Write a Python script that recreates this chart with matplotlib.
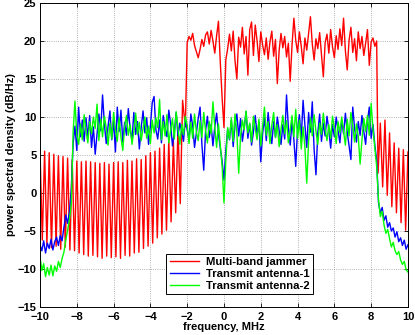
import matplotlib
matplotlib.use('Agg')
import matplotlib.pyplot as plt
import numpy as np

# red: multi-band jammer (left comb, main band, right comb)
red_left = [5.8, -6.2, 5.5, -6.8, 5.3, -7.2, 5.1, -7.0, 4.9, -7.4, 4.8, -7.1, 4.6, -7.5,
            4.4, -7.6, 4.2, -7.9, 4.1, -8.1, 4.2, -8.3, 4.1, -8.2, 4.0, -8.4, 3.9, -8.6,
            4.0, -8.3, 3.8, -8.5, 4.0, -8.4, 4.1, -8.6, 4.0, -8.2, 4.3, -8.3, 4.2, -7.9,
            4.5, -7.8, 4.4, -7.3, 4.9, -7.0, 5.3, -6.6, 5.5, -5.9, 5.9, -5.4, 6.4, -4.9,
            7.0, -3.8, 6.8, -2.6, 8.6, -1.4, 12.2]
red_band = [8.7, 19.8, 20.6, 20.1, 21.0, 19.4, 18.6, 17.8, 18.9, 20.2,
            19.3, 20.8, 21.2, 19.6, 21.4, 20.0, 18.4, 20.7, 22.6, 17.2,
            12.5, 8.6, 17.5, 19.0, 20.9, 18.7, 21.3, 17.4, 15.0, 20.5,
            19.2, 21.8, 18.3, 20.6, 15.5, 21.5, 22.5, 18.1, 22.1, 20.0,
            17.3, 21.2, 19.5, 18.2, 20.4, 17.6, 19.9, 21.3, 18.0, 20.2,
            14.4, 18.8, 21.0, 19.1, 20.6, 17.9, 19.7, 14.7, 19.5, 23.0,
            20.1, 18.5, 21.2, 19.3, 17.0, 20.4, 18.8, 21.0, 23.2, 19.6,
            17.5, 20.3, 19.0, 21.1, 18.2, 15.3, 19.8, 20.9, 18.4, 21.5,
            19.2, 17.8, 20.7, 18.9, 21.6, 19.4, 23.0, 18.7, 16.2, 20.1,
            21.8, 18.5, 20.3, 17.4, 21.2, 19.0, 20.6, 18.1, 19.7, 21.5,
            16.8, 19.9, 20.4, 19.3, 20.0]
red_right = [2.6, 9.2, 0.8, 9.6, -0.3, 7.9, -1.8, 6.6, -2.6, 5.9, -3.9, 5.7, -4.9, 5.4]

red_freq = np.concatenate([np.linspace(-10, -2.25, len(red_left)),
                           np.linspace(-2.1, 8.3, len(red_band)),
                           np.linspace(8.375, 10, len(red_right))])
red_psd = np.array(red_left + red_band + red_right)

# transmit antennas, sampled every 0.1 MHz from -10 to 10
blue_psd = [-6.8, -7.6, -6.3, -7.9, -6.6, -7.3, -6.1, -7.5, -6.4, -5.8,
            -6.9, -5.6, -6.3, -4.5, -2.9, -4.0, -2.5, 0.5,
            6.5, 8.8, 5.6, 11.3, 7.4, 9.6, 6.8, 9.9, 7.3, 10.2,
            6.0, 8.7, 5.1, 7.8, 10.4, 8.2, 12.9, 9.1, 6.5, 8.8,
            10.8, 7.0, 9.5, 5.4, 11.3, 8.1, 10.9, 6.7, 9.3, 7.6,
            11.1, 8.4, 6.9, 10.6, 7.7, 9.4, 5.8, 8.6, 10.8, 7.9,
            9.9, 6.4, 8.8, 11.9, 12.7, 8.3, 7.1, 9.6, 6.6, 10.2,
            8.5, 7.4, 10.9, 9.1, 6.2, 8.0, 10.6, 7.5, 9.2, 8.1,
            6.8, 9.7, 8.3, 7.0, 10.4, 8.8, 6.0, 7.9, 9.8, 11.3, 6.4, 3.0,
            8.2, 10.1, 7.3, 9.0, 6.2, 8.7, 10.5, 7.8, 5.9, 4.2,
            1.7,
            5.6, 8.4, 7.0, 9.6, 6.1, 8.9, 10.4, 7.5, 9.8, 6.8,
            8.6, 10.7, 7.2, 9.1, 6.3, 8.0, 10.2, 7.6, 9.3, 4.1,
            7.8, 9.9, 6.9, 10.6, 8.1, 6.5, 9.4, 7.3, 10.0, 8.2,
            6.4, 9.0, 7.1, 12.9, 8.6, 6.3, 9.5, 7.0, 3.5, 8.4,
            10.3, 7.2, 12.2, 8.9, 6.0, 10.6, 8.0, 12.0, 5.7, 2.4,
            7.9, 10.4, 6.8, 9.2, 7.5, 10.1, 8.3, 5.9, 9.0, 7.4,
            10.0, 8.2, 6.6, 9.6, 7.8, 10.5, 8.0, 6.2, 4.4, 11.3,
            8.5, 6.7, 9.4, 7.6, 10.2, 8.1, 6.4, 9.5, 11.3, 7.2,
            9.0, 6.3, 4.3,
            -1.3, -2.6, -1.9, -3.6, -3.0, -4.5, -3.9, -5.0, -4.6, -5.8,
            -5.1, -6.4, -5.9, -6.9, -6.2, -7.4, -6.8]
green_psd = [-8.4, -10.2, -9.3, -11.0, -9.8, -10.8, -9.5, -10.9, -9.6, -10.3,
             -9.0, -9.8, -8.6, -7.8, -6.2, -4.9, -3.5, -1.5,
             8.0, 12.1, 7.6, 6.4, 9.1, 7.0, 10.3, 8.2, 6.6, 9.4,
             7.8, 10.0, 8.5, 11.7, 6.9, 9.7, 7.4, 10.1, 8.6, 6.3,
             9.2, 7.1, 10.6, 8.4, 6.8, 9.9, 7.3, 5.6, 8.7, 10.2,
             7.6, 9.0, 6.4, 8.1, 10.5, 7.7, 9.3, 6.9, 8.5, 10.0,
             7.2, 8.8, 6.5, 9.6, 7.9, 9.9, 8.6, 12.3, 7.0, 9.4,
             7.5, 10.3, 6.6, 8.2, 9.8, 7.1, 10.7, 8.5, 6.4, 9.0,
             7.7, 10.1, 8.9, 6.5, 9.3, 7.2, 10.4, 8.0, 6.9, 9.5,
             7.3, 10.6, 8.2, 6.6, 9.4, 7.8, 12.0, 8.7, 6.0, 9.1,
             6.3, 3.5, -1.3, 4.2, 8.6,
             7.1, 9.9, 6.8, 10.4, 8.0, 2.6, 7.4, 9.6, 8.3, 10.8,
             7.9, 9.2, 6.7, 10.1, 8.5, 7.0, 9.7, 6.2, 8.8, 11.3,
             7.6, 9.4, 6.5, 8.9, 10.6, 7.3, 9.0, 6.1, 8.4, 10.2,
             7.8, 9.5, 6.6, 8.3, 10.2, 7.4, 11.0, 7.2, 9.6, 5.8,
             8.7, 6.0, 1.3, 6.8, 9.9, 7.5, 10.3, 8.1, 6.4, 9.2,
             7.7, 10.5, 8.4, 6.9, 9.0, 7.2, 10.1, 8.6, 6.5, 9.4,
             7.9, 10.0, 8.2, 6.3, 9.7, 7.5, 10.6, 8.8, 6.7, 9.1,
             7.4, 3.8, 7.0, 9.8, 8.1, 10.2, 7.6, 11.8, 8.4, 6.0, 3.5,
             -0.9, -3.1, -2.4, -4.2, -5.3, -4.8, -6.0, -7.1, -6.5, -7.6,
             -8.1, -7.7, -8.8, -9.4, -9.0, -10.1, -10.4]
tx_freq = np.linspace(-10, 10, len(blue_psd))

labels = ['Multi-band jammer', 'Transmit antenna-1', 'Transmit antenna-2']
x_ticks = np.arange(-10, 11, 2)
y_ticks = np.arange(-15, 26, 5)

plt.rcParams['font.family'] = ['Liberation Sans', 'DejaVu Sans']
plt.rcParams['font.weight'] = 'bold'
plt.rcParams['font.size'] = 8

fig = plt.figure(figsize=(4.15, 3.35), dpi=100)
ax = fig.add_axes([0.0964, 0.0836, 0.8866, 0.9074])
ax.plot(red_freq, red_psd, color='red', lw=1.0, label=labels[0])
ax.plot(tx_freq, blue_psd, color='blue', lw=1.0, label=labels[1])
ax.plot(tx_freq, green_psd, color=(0, 1, 0), lw=1.0, label=labels[2])

ax.set_xlim(-10, 10)
ax.set_ylim(-15, 25)
ax.set_xticks(x_ticks)
ax.set_yticks(y_ticks)
ax.set_xticklabels([f'{v:d}'.replace('-', '\u2212') for v in x_ticks], fontweight='bold')
ax.set_yticklabels([f'{v:d}'.replace('-', '\u2212') for v in y_ticks], fontweight='bold')
ax.tick_params(direction='in', top=True, right=True, length=3, width=0.6)
ax.tick_params(axis='x', pad=3.5)
ax.tick_params(axis='y', pad=2.5)
ax.grid(True, linestyle=':', color='#999999', lw=0.6)
for s in ax.spines.values():
    s.set_linewidth(0.7)
ax.set_xlabel('frequency, MHz', fontweight='bold', labelpad=0)
ax.set_ylabel('power spectral density (dB/Hz)', fontweight='bold', labelpad=1)

leg = ax.legend(loc='lower left', bbox_to_anchor=(0.343, 0.043), fancybox=False,
                edgecolor='black', framealpha=1, handlelength=2.6, borderpad=0.3,
                labelspacing=0.15, handletextpad=0.6, borderaxespad=0,
                prop={'weight': 'bold', 'size': 8.1})
leg.get_frame().set_linewidth(0.7)

fig.savefig('out.png', dpi=100)
